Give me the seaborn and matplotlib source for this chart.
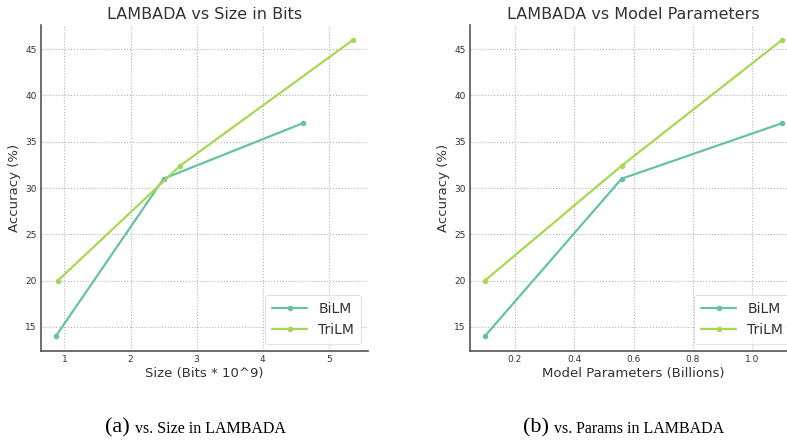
import matplotlib
matplotlib.use("Agg")
import matplotlib.pyplot as plt
import seaborn as sns
import pandas as pd

# LAMBADA accuracy for the two model families
models = ["BiLM", "TriLM"]
size_bits_bilm = [0.87, 2.50, 4.61]      # size in bits * 10^9
size_bits_trilm = [0.90, 2.75, 5.37]
params_bilm = [0.10, 0.56, 1.10]         # parameters in billions
params_trilm = [0.10, 0.56, 1.10]
acc_bilm = [14.0, 31.0, 37.0]            # accuracy (%)
acc_trilm = [20.0, 32.4, 46.0]

titles = ["LAMBADA vs Size in Bits", "LAMBADA vs Model Parameters"]
xlabels = ["Size (Bits * 10^9)", "Model Parameters (Billions)"]
ylabel = "Accuracy (%)"
captions = [("(a)", "vs. Size in LAMBADA"), ("(b)", "vs. Params in LAMBADA")]

df_bits = pd.DataFrame({
    "x": size_bits_bilm + size_bits_trilm,
    "acc": acc_bilm + acc_trilm,
    "model": [models[0]] * 3 + [models[1]] * 3,
})
df_params = pd.DataFrame({
    "x": params_bilm + params_trilm,
    "acc": acc_bilm + acc_trilm,
    "model": [models[0]] * 3 + [models[1]] * 3,
})

sns.set_theme(style="whitegrid")
plt.rcParams.update({
    "font.family": ["DejaVu Sans"],
    "axes.edgecolor": "#555555",
    "axes.linewidth": 1.2,
    "grid.linestyle": ":",
    "grid.color": "#b4b4b4",
    "grid.linewidth": 0.8,
    "xtick.direction": "in",
    "ytick.direction": "in",
    "xtick.major.size": 3,
    "ytick.major.size": 3,
    "xtick.color": "#333333",
    "ytick.color": "#333333",
    "text.color": "#333333",
    "axes.labelcolor": "#333333",
})

set2 = sns.color_palette("Set2")
palette = {models[0]: set2[0], models[1]: set2[4]}

fig = plt.figure(figsize=(7.87, 4.40), dpi=100)
W, H = 787, 440
ax_w, ax_h = 327, 326
bottom = (H - 351) / H
axes = [
    fig.add_axes([41 / W, bottom, ax_w / W, ax_h / H]),
    fig.add_axes([470 / W, bottom, ax_w / W, ax_h / H]),
]

for ax, df, title, xlabel in zip(axes, [df_bits, df_params], titles, xlabels):
    sns.lineplot(data=df, x="x", y="acc", hue="model", palette=palette,
                 marker="o", markersize=4, markeredgewidth=0, linewidth=1.6,
                 ax=ax)
    ax.set_facecolor("white")
    ax.set_title(title, fontsize=11.5, color="#333333", pad=4)
    ax.set_xlabel(xlabel, fontsize=9.5, labelpad=2)
    ax.set_ylabel(ylabel, fontsize=9.5, labelpad=3)
    ax.tick_params(labelsize=6.5, pad=3, width=0.8)
    ax.grid(True)
    for side in ["top", "right"]:
        ax.spines[side].set_visible(False)
    ax.spines["left"].set_color("#555555")
    ax.spines["bottom"].set_color("#555555")
    leg = ax.legend(loc="lower right", fontsize=10, frameon=True,
                    handlelength=2.5, borderpad=0.5)
    leg.get_frame().set_edgecolor("#dddddd")
    leg.get_frame().set_linewidth(0.8)

# Subfigure captions
cap_y = (H - 428) / H
for (tag, text), (x_tag, x_text) in zip(captions, [(130, 135), (549, 554)]):
    fig.text(x_tag / W, cap_y, tag, ha="right", va="center",
             family="Liberation Serif", fontsize=16, color="black")
    fig.text(x_text / W, cap_y - 0.002, text, ha="left", va="center",
             family="Liberation Serif", fontsize=11.5, color="black")

fig.savefig("out.png", dpi=100, facecolor="white")
